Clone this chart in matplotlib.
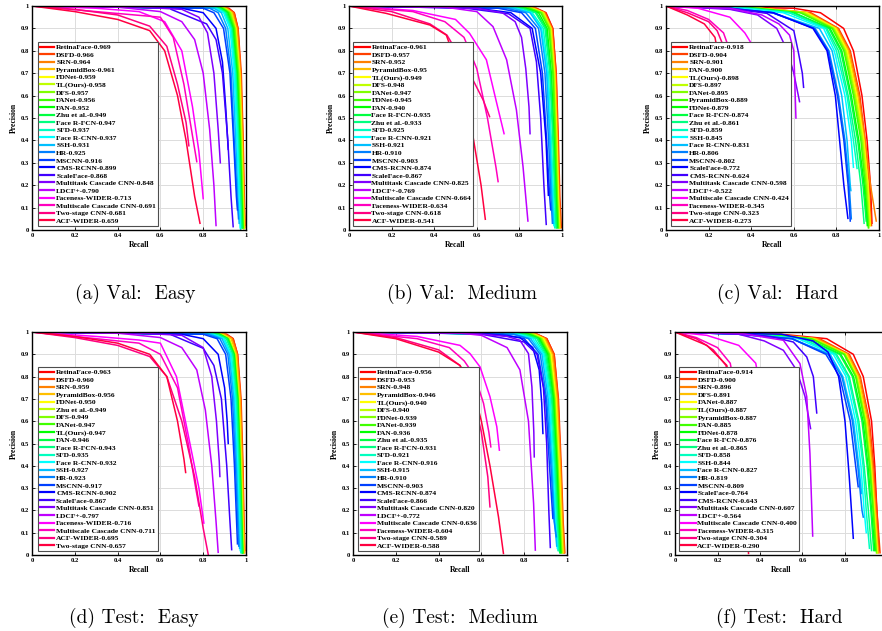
import colorsys
import matplotlib.pyplot as plt

# ---------------- (a) Val: Easy ----------------
va_easy_names = ["RetinaFace-0.969", "DSFD-0.966", "SRN-0.964", "PyramidBox-0.961", "FDNet-0.959",
                 "TL(Ours)-0.958", "DFS-0.957", "FANet-0.956", "FAN-0.952", "Zhu et al.-0.949",
                 "Face R-FCN-0.947", "SFD-0.937", "Face R-CNN-0.937", "SSH-0.931", "HR-0.925",
                 "MSCNN-0.916", "CMS-RCNN-0.899", "ScaleFace-0.868", "Multitask Cascade CNN-0.848",
                 "LDCF+-0.790", "Faceness-WIDER-0.713", "Multiscale Cascade CNN-0.691",
                 "Two-stage CNN-0.681", "ACF-WIDER-0.659"]
lv_a = [1, 0.99, 0.97, 0.9, 0.7, 0.4, 0.15]
va_easy_rec = [
    [0, 0.92, 0.945, 0.962, 0.975, 0.983, 0.988, 0.992],
    [0, 0.915, 0.945, 0.963, 0.978, 0.987, 0.992, 0.996],
    [0, 0.91, 0.94, 0.96, 0.975, 0.985, 0.99, 0.995],
    [0, 0.905, 0.935, 0.955, 0.972, 0.982, 0.988, 0.993],
    [0, 0.9, 0.93, 0.952, 0.97, 0.98, 0.986, 0.99],
    [0, 0.9, 0.93, 0.95, 0.968, 0.978, 0.985, 0.99],
    [0, 0.895, 0.925, 0.948, 0.965, 0.976, 0.983, 0.988],
    [0, 0.89, 0.92, 0.945, 0.962, 0.974, 0.981, 0.986],
    [0, 0.885, 0.915, 0.94, 0.958, 0.971, 0.979, 0.984],
    [0, 0.88, 0.91, 0.937, 0.955, 0.968, 0.976, 0.982],
    [0, 0.875, 0.905, 0.933, 0.952, 0.966, 0.975, 0.98],
    [0, 0.865, 0.9, 0.93, 0.95, 0.962, 0.97, 0.975],
    [0, 0.86, 0.895, 0.925, 0.945, 0.958, 0.968, 0.973],
    [0, 0.85, 0.885, 0.915, 0.938, 0.952, 0.962, 0.968],
    [0, 0.83, 0.87, 0.905, 0.93, 0.945, 0.958, 0.965],
    [0, 0.8, 0.85, 0.895, 0.925, 0.942, 0.955, 0.96],
    [0, 0.7, 0.8, 0.86, 0.89, 0.905, 0.917],
    [0.65, 0.816, 0.86, 0.89, 0.915, 0.93, 0.94],
    [0, 0.5, 0.7, 0.78, 0.82, 0.85, 0.87, 0.88],
    [0, 0.4, 0.6, 0.7, 0.76, 0.8, 0.83, 0.85, 0.86],
    [0, 0.3, 0.5, 0.62, 0.7, 0.75, 0.78, 0.8],
    [0, 0.3, 0.6, 0.66, 0.71, 0.75, 0.77],
    [0, 0.2, 0.4, 0.55, 0.63, 0.68, 0.72, 0.733],
    [0, 0.2, 0.4, 0.55, 0.62, 0.68, 0.72, 0.76, 0.785],
]
va_easy_prec = [
    lv_a + [0.05], lv_a + [0.02], lv_a + [0.01], lv_a + [0.01], lv_a + [0.01], lv_a + [0.005],
    lv_a + [0.01], lv_a + [0.01], lv_a + [0.01], lv_a + [0.01], lv_a + [0.01], lv_a + [0.0],
    lv_a + [0.01], lv_a + [0.03], lv_a + [0.05], lv_a + [0.09],
    [1, 0.99, 0.97, 0.9, 0.75, 0.55, 0.36],
    [0.985, 0.92, 0.85, 0.7, 0.4, 0.15, 0.015],
    [1, 0.995, 0.985, 0.95, 0.88, 0.7, 0.45, 0.3],
    [1, 0.995, 0.975, 0.93, 0.85, 0.7, 0.45, 0.2, 0.02],
    [1, 0.99, 0.975, 0.93, 0.8, 0.55, 0.35, 0.14],
    [1, 0.975, 0.95, 0.86, 0.65, 0.42, 0.305],
    [1, 0.985, 0.96, 0.91, 0.82, 0.65, 0.48, 0.376],
    [1, 0.975, 0.94, 0.89, 0.8, 0.6, 0.4, 0.15, 0.03],
]

# ---------------- (b) Val: Medium ----------------
va_med_names = ["RetinaFace-0.961", "DSFD-0.957", "SRN-0.952", "PyramidBox-0.95", "TL(Ours)-0.949",
                "DFS-0.948", "FANet-0.947", "FDNet-0.945", "FAN-0.940", "Face R-FCN-0.935",
                "Zhu et al.-0.933", "SFD-0.925", "Face R-CNN-0.921", "SSH-0.921", "HR-0.910",
                "MSCNN-0.903", "CMS-RCNN-0.874", "ScaleFace-0.867", "Multitask Cascade CNN-0.825",
                "LDCF+-0.769", "Multiscale Cascade CNN-0.664", "Faceness-WIDER-0.634",
                "Two-stage CNN-0.618", "ACF-WIDER-0.541"]
lv_b = [1, 0.99, 0.97, 0.9, 0.7, 0.4, 0.15]
va_med_rec = [
    [0, 0.88, 0.925, 0.957, 0.972, 0.98, 0.986, 0.99],
    [0, 0.875, 0.922, 0.956, 0.973, 0.983, 0.99, 0.997],
    [0, 0.87, 0.918, 0.952, 0.969, 0.979, 0.986, 0.992],
    [0, 0.865, 0.915, 0.95, 0.967, 0.977, 0.984, 0.99],
    [0, 0.86, 0.912, 0.947, 0.964, 0.975, 0.982, 0.988],
    [0, 0.855, 0.91, 0.945, 0.962, 0.973, 0.98, 0.986],
    [0, 0.85, 0.905, 0.942, 0.96, 0.971, 0.978, 0.984],
    [0, 0.845, 0.9, 0.938, 0.957, 0.968, 0.976, 0.982],
    [0, 0.83, 0.89, 0.93, 0.95, 0.963, 0.972, 0.978],
    [0, 0.82, 0.88, 0.925, 0.946, 0.96, 0.969, 0.975],
    [0, 0.81, 0.875, 0.92, 0.943, 0.957, 0.966, 0.972],
    [0, 0.79, 0.86, 0.912, 0.936, 0.95, 0.96, 0.966],
    [0, 0.78, 0.855, 0.905, 0.932, 0.946, 0.956, 0.962],
    [0, 0.77, 0.85, 0.9, 0.928, 0.943, 0.953, 0.96],
    [0, 0.74, 0.83, 0.89, 0.92, 0.937, 0.948, 0.955],
    [0, 0.7, 0.81, 0.875, 0.908, 0.928, 0.942, 0.947],
    [0, 0.6, 0.76, 0.86, 0.9, 0.925, 0.936],
    [0.55, 0.75, 0.85, 0.88, 0.9, 0.915, 0.926],
    [0, 0.6, 0.72, 0.78, 0.81, 0.83, 0.845, 0.85],
    [0, 0.45, 0.6, 0.676, 0.74, 0.786, 0.817, 0.84],
    [0, 0.3, 0.5, 0.566, 0.645, 0.69, 0.728],
    [0, 0.3, 0.45, 0.54, 0.6, 0.65, 0.69, 0.70],
    [0, 0.2, 0.38, 0.46, 0.566, 0.63, 0.66],
    [0, 0.175, 0.38, 0.457, 0.52, 0.58, 0.62, 0.64],
]
va_med_prec = [
    lv_b + [0.02], lv_b + [0.01], lv_b + [0.01], lv_b + [0.01], lv_b + [0.01], lv_b + [0.01],
    lv_b + [0.01], lv_b + [0.01], lv_b + [0.01], lv_b + [0.01], lv_b + [0.01], lv_b + [0.01],
    lv_b + [0.02], lv_b + [0.03], lv_b + [0.03], lv_b + [0.09],
    [1, 0.99, 0.97, 0.9, 0.7, 0.4, 0.155],
    [0.99, 0.965, 0.9, 0.75, 0.5, 0.2, 0.025],
    [1, 0.99, 0.97, 0.93, 0.86, 0.72, 0.55, 0.43],
    [1, 0.995, 0.975, 0.908, 0.76, 0.536, 0.283, 0.04],
    [1, 0.98, 0.94, 0.878, 0.76, 0.58, 0.43],
    [1, 0.975, 0.93, 0.86, 0.72, 0.5, 0.28, 0.216],
    [1, 0.975, 0.92, 0.87, 0.70, 0.58, 0.506],
    [1, 0.967, 0.915, 0.87, 0.70, 0.43, 0.2, 0.048],
]

# ---------------- (c) Val: Hard ----------------
va_hard_names = ["RetinaFace-0.918", "DSFD-0.904", "SRN-0.901", "FAN-0.900", "TL(Ours)-0.898",
                 "DFS-0.897", "FANet-0.895", "PyramidBox-0.889", "FDNet-0.879", "Face R-FCN-0.874",
                 "Zhu et al.-0.861", "SFD-0.859", "SSH-0.845", "Face R-CNN-0.831", "HR-0.806",
                 "MSCNN-0.802", "ScaleFace-0.772", "CMS-RCNN-0.624", "Multitask Cascade CNN-0.598",
                 "LDCF+-0.522", "Multiscale Cascade CNN-0.424", "Faceness-WIDER-0.345",
                 "Two-stage CNN-0.323", "ACF-WIDER-0.273"]
lv_c = [1, 0.99, 0.97, 0.9, 0.8, 0.6, 0.4, 0.2]
va_hard_rec = [
    [0, 0.6, 0.725, 0.834, 0.88, 0.92, 0.944, 0.96, 0.967],
    [0, 0.45, 0.68, 0.81, 0.865, 0.91, 0.935, 0.955, 0.965],
    [0, 0.45, 0.67, 0.805, 0.86, 0.905, 0.935, 0.96, 0.987],
    [0, 0.44, 0.66, 0.8, 0.855, 0.9, 0.93, 0.95, 0.96],
    [0, 0.44, 0.66, 0.795, 0.85, 0.895, 0.928, 0.948, 0.958],
    [0, 0.43, 0.65, 0.79, 0.845, 0.89, 0.925, 0.945, 0.955],
    [0, 0.43, 0.64, 0.785, 0.84, 0.885, 0.92, 0.94, 0.952],
    [0, 0.42, 0.63, 0.78, 0.835, 0.88, 0.915, 0.935, 0.95],
    [0, 0.4, 0.6, 0.77, 0.825, 0.87, 0.905, 0.93, 0.945],
    [0, 0.4, 0.6, 0.765, 0.82, 0.865, 0.9, 0.925, 0.94],
    [0, 0.38, 0.58, 0.755, 0.81, 0.855, 0.89, 0.915, 0.93],
    [0, 0.38, 0.58, 0.75, 0.8, 0.85, 0.88, 0.897],
    [0, 0.35, 0.55, 0.74, 0.79, 0.84, 0.87, 0.88],
    [0, 0.3, 0.5, 0.72, 0.78, 0.825, 0.85, 0.865, 0.868],
    [0, 0.3, 0.5, 0.7, 0.765, 0.81, 0.84, 0.86, 0.87],
    [0, 0.3, 0.5, 0.695, 0.76, 0.805, 0.835, 0.855, 0.865],
    [0, 0.25, 0.505, 0.69, 0.756, 0.795, 0.815, 0.835, 0.854],
    [0, 0.3, 0.474, 0.6, 0.62, 0.64, 0.646],
    [0, 0.3, 0.43, 0.52, 0.57, 0.6, 0.627],
    [0, 0.3, 0.45, 0.53, 0.58, 0.6, 0.61],
    [0, 0.15, 0.3, 0.37, 0.396, 0.42, 0.43],
    [0, 0.1, 0.2, 0.27, 0.3, 0.32, 0.33],
    [0, 0.1, 0.2, 0.24, 0.27, 0.29, 0.31],
    [0, 0.1, 0.18, 0.23, 0.26, 0.28],
]
va_hard_prec = [
    lv_c + [0.03], lv_c + [0.02], lv_c + [0.04], lv_c + [0.02], lv_c + [0.02], lv_c + [0.02],
    lv_c + [0.01], lv_c + [0.01], lv_c + [0.02], lv_c + [0.04], lv_c + [0.03],
    [1, 0.99, 0.97, 0.9, 0.8, 0.6, 0.4, 0.275],
    [1, 0.99, 0.97, 0.9, 0.8, 0.6, 0.4, 0.28],
    lv_c + [0.176], lv_c + [0.05], lv_c + [0.04], lv_c + [0.052],
    [1, 0.99, 0.967, 0.89, 0.8, 0.7, 0.637],
    [1, 0.985, 0.96, 0.9, 0.8, 0.7, 0.573],
    [1, 0.99, 0.96, 0.92, 0.87, 0.8, 0.5],
    [1, 0.99, 0.95, 0.88, 0.84, 0.6, 0.4],
    [1, 0.98, 0.94, 0.88, 0.8, 0.6, 0.35],
    [1, 0.97, 0.93, 0.89, 0.82, 0.6, 0.4],
    [1, 0.96, 0.92, 0.86, 0.7, 0.3],
]

# ---------------- (d) Test: Easy ----------------
te_easy_names = ["RetinaFace-0.963", "DSFD-0.960", "SRN-0.959", "PyramidBox-0.956", "FDNet-0.950",
                 "Zhu et al.-0.949", "DFS-0.949", "FANet-0.947", "TL(Ours)-0.947", "FAN-0.946",
                 "Face R-FCN-0.943", "SFD-0.935", "Face R-CNN-0.932", "SSH-0.927", "HR-0.923",
                 "MSCNN-0.917", "CMS-RCNN-0.902", "ScaleFace-0.867", "Multitask Cascade CNN-0.851",
                 "LDCF+-0.797", "Faceness-WIDER-0.716", "Multiscale Cascade CNN-0.711",
                 "ACF-WIDER-0.695", "Two-stage CNN-0.657"]
lv_d = [1, 0.99, 0.97, 0.9, 0.7, 0.4, 0.15]
te_easy_rec = [
    [0, 0.91, 0.94, 0.96, 0.974, 0.982, 0.987, 0.99],
    [0, 0.905, 0.94, 0.961, 0.977, 0.986, 0.991, 0.995],
    [0, 0.9, 0.935, 0.958, 0.974, 0.984, 0.989, 0.994],
    [0, 0.895, 0.93, 0.955, 0.971, 0.981, 0.987, 0.992],
    [0, 0.885, 0.922, 0.95, 0.967, 0.977, 0.984, 0.988],
    [0, 0.88, 0.92, 0.948, 0.965, 0.976, 0.983, 0.987],
    [0, 0.88, 0.918, 0.947, 0.964, 0.975, 0.982, 0.986],
    [0, 0.875, 0.915, 0.945, 0.962, 0.973, 0.98, 0.985],
    [0, 0.875, 0.914, 0.944, 0.961, 0.972, 0.979, 0.984],
    [0, 0.87, 0.912, 0.942, 0.959, 0.97, 0.978, 0.983],
    [0, 0.865, 0.908, 0.938, 0.956, 0.968, 0.976, 0.98],
    [0, 0.85, 0.9, 0.932, 0.952, 0.964, 0.972, 0.976],
    [0, 0.845, 0.895, 0.928, 0.948, 0.96, 0.968, 0.973],
    [0, 0.835, 0.888, 0.922, 0.943, 0.956, 0.965, 0.97],
    [0, 0.82, 0.878, 0.915, 0.937, 0.951, 0.961, 0.966],
    [0, 0.8, 0.865, 0.905, 0.93, 0.946, 0.956, 0.96],
    [0, 0.7, 0.8, 0.87, 0.9, 0.912, 0.917],
    [0.652, 0.8, 0.85, 0.885, 0.91, 0.925, 0.933],
    [0, 0.5, 0.7, 0.8, 0.84, 0.862, 0.875, 0.878],
    [0, 0.4, 0.6, 0.7, 0.77, 0.81, 0.84, 0.86, 0.87],
    [0, 0.3, 0.5, 0.6, 0.675, 0.738, 0.78, 0.803],
    [0, 0.3, 0.5, 0.6, 0.68, 0.73, 0.765, 0.78],
    [0, 0.2, 0.4, 0.55, 0.63, 0.7, 0.76, 0.8, 0.824],
    [0, 0.2, 0.4, 0.55, 0.63, 0.68, 0.71, 0.718],
]
te_easy_prec = [
    lv_d + [0.04], lv_d + [0.02], lv_d + [0.01], lv_d + [0.01], lv_d + [0.01], lv_d + [0.01],
    lv_d + [0.01], lv_d + [0.01], lv_d + [0.01], lv_d + [0.01], lv_d + [0.01], lv_d + [0.01],
    lv_d + [0.02], lv_d + [0.03], lv_d + [0.04], lv_d + [0.05],
    [1, 0.99, 0.97, 0.9, 0.75, 0.6, 0.5],
    [0.987, 0.927, 0.85, 0.7, 0.4, 0.15, 0.024],
    [1, 0.995, 0.985, 0.93, 0.8, 0.6, 0.42, 0.352],
    [1, 0.995, 0.975, 0.93, 0.83, 0.65, 0.4, 0.15, 0.012],
    [1, 0.98, 0.964, 0.95, 0.8, 0.5, 0.3, 0.143],
    [1, 0.97, 0.95, 0.9, 0.75, 0.5, 0.3, 0.22],
    [1, 0.975, 0.94, 0.89, 0.8, 0.6, 0.35, 0.12, 0.0],
    [1, 0.98, 0.95, 0.9, 0.8, 0.6, 0.43, 0.37],
]

# ---------------- (e) Test: Medium ----------------
te_med_names = ["RetinaFace-0.956", "DSFD-0.953", "SRN-0.948", "PyramidBox-0.946", "TL(Ours)-0.940",
                "DFS-0.940", "FDNet-0.939", "FANet-0.939", "FAN-0.936", "Zhu et al.-0.935",
                "Face R-FCN-0.931", "SFD-0.921", "Face R-CNN-0.916", "SSH-0.915", "HR-0.910",
                "MSCNN-0.903", "CMS-RCNN-0.874", "ScaleFace-0.866", "Multitask Cascade CNN-0.820",
                "LDCF+-0.772", "Multiscale Cascade CNN-0.636", "Faceness-WIDER-0.604",
                "Two-stage CNN-0.589", "ACF-WIDER-0.588"]
lv_e = [1, 0.99, 0.97, 0.9, 0.7, 0.4, 0.15]
te_med_rec = [
    [0, 0.86, 0.906, 0.94, 0.958, 0.97, 0.978, 0.985],
    [0, 0.86, 0.905, 0.94, 0.96, 0.973, 0.982, 0.99],
    [0, 0.855, 0.9, 0.935, 0.956, 0.97, 0.98, 0.987],
    [0, 0.85, 0.895, 0.93, 0.952, 0.967, 0.976, 0.983],
    [0, 0.845, 0.89, 0.925, 0.948, 0.963, 0.973, 0.98],
    [0, 0.84, 0.885, 0.92, 0.945, 0.96, 0.97, 0.978],
    [0, 0.835, 0.88, 0.918, 0.942, 0.957, 0.968, 0.975],
    [0, 0.83, 0.875, 0.915, 0.94, 0.955, 0.965, 0.972],
    [0, 0.82, 0.87, 0.91, 0.936, 0.952, 0.962, 0.97],
    [0, 0.81, 0.865, 0.905, 0.932, 0.948, 0.958, 0.966],
    [0, 0.8, 0.86, 0.9, 0.928, 0.944, 0.955, 0.962],
    [0, 0.78, 0.85, 0.895, 0.922, 0.94, 0.95, 0.958],
    [0, 0.77, 0.84, 0.89, 0.918, 0.935, 0.946, 0.955],
    [0, 0.75, 0.83, 0.883, 0.912, 0.93, 0.942, 0.952],
    [0, 0.75, 0.82, 0.875, 0.905, 0.925, 0.94, 0.95],
    [0, 0.7, 0.8, 0.865, 0.9, 0.918, 0.934],
    [0, 0.6, 0.78, 0.84, 0.87, 0.882, 0.8875],
    [0.6, 0.8, 0.86, 0.89, 0.905, 0.915, 0.922],
    [0, 0.55, 0.72, 0.78, 0.82, 0.836, 0.845, 0.847],
    [0, 0.5, 0.6, 0.72, 0.78, 0.82, 0.844, 0.852],
    [0, 0.3, 0.5, 0.547, 0.594, 0.64, 0.672, 0.684],
    [0, 0.3, 0.45, 0.52, 0.57, 0.61, 0.635, 0.644],
    [0, 0.2, 0.4, 0.5, 0.56, 0.6, 0.63, 0.64],
    [0, 0.2, 0.4, 0.5, 0.56, 0.6, 0.64, 0.68, 0.703],
]
te_med_prec = [
    lv_e + [0.01], lv_e + [0.01], lv_e + [0.01], lv_e + [0.01], lv_e + [0.01], lv_e + [0.01],
    lv_e + [0.01], lv_e + [0.01], lv_e + [0.01], lv_e + [0.01], lv_e + [0.02], lv_e + [0.02],
    lv_e + [0.03], lv_e + [0.04], lv_e + [0.082],
    [1, 0.99, 0.97, 0.9, 0.7, 0.4, 0.164],
    [1, 0.995, 0.975, 0.93, 0.83, 0.68, 0.545],
    [0.99, 0.955, 0.9, 0.75, 0.5, 0.2, 0.034],
    [1, 0.995, 0.98, 0.963, 0.903, 0.754, 0.55, 0.44],
    [1, 0.995, 0.985, 0.93, 0.83, 0.6, 0.23, 0.022],
    [1, 0.98, 0.94, 0.903, 0.843, 0.71, 0.575, 0.47],
    [1, 0.97, 0.93, 0.87, 0.8, 0.68, 0.55, 0.485],
    [1, 0.975, 0.92, 0.85, 0.72, 0.55, 0.35, 0.216],
    [1, 0.97, 0.91, 0.85, 0.75, 0.6, 0.4, 0.17, 0.007],
]

# ---------------- (f) Test: Hard ----------------
te_hard_names = ["RetinaFace-0.914", "DSFD-0.900", "SRN-0.896", "DFS-0.891", "FANet-0.887",
                 "TL(Ours)-0.887", "PyramidBox-0.887", "FAN-0.885", "FDNet-0.878", "Face R-FCN-0.876",
                 "Zhu et al.-0.865", "SFD-0.858", "SSH-0.844", "Face R-CNN-0.827", "HR-0.819",
                 "MSCNN-0.809", "ScaleFace-0.764", "CMS-RCNN-0.643", "Multitask Cascade CNN-0.607",
                 "LDCF+-0.564", "Multiscale Cascade CNN-0.400", "Faceness-WIDER-0.315",
                 "Two-stage CNN-0.304", "ACF-WIDER-0.290"]
lv_f = [1, 0.99, 0.97, 0.9, 0.8, 0.6, 0.4, 0.2]
te_hard_rec = [
    [0, 0.5, 0.714, 0.839, 0.886, 0.925, 0.94, 0.95, 0.96],
    [0, 0.45, 0.68, 0.82, 0.872, 0.915, 0.935, 0.95, 0.965],
    [0, 0.45, 0.67, 0.815, 0.868, 0.91, 0.93, 0.945, 0.958],
    [0, 0.43, 0.66, 0.81, 0.862, 0.905, 0.926, 0.942, 0.955],
    [0, 0.42, 0.65, 0.805, 0.858, 0.9, 0.922, 0.938, 0.952],
    [0, 0.42, 0.65, 0.8, 0.855, 0.898, 0.92, 0.936, 0.95],
    [0, 0.42, 0.645, 0.8, 0.853, 0.895, 0.918, 0.934, 0.948],
    [0, 0.4, 0.64, 0.795, 0.85, 0.892, 0.915, 0.932, 0.945],
    [0, 0.38, 0.62, 0.78, 0.84, 0.885, 0.908, 0.925, 0.94],
    [0, 0.38, 0.62, 0.775, 0.835, 0.88, 0.904, 0.922, 0.935],
    [0, 0.35, 0.6, 0.76, 0.82, 0.865, 0.89, 0.91, 0.925],
    [0, 0.35, 0.6, 0.755, 0.815, 0.86, 0.885, 0.9, 0.915],
    [0, 0.33, 0.58, 0.745, 0.805, 0.85, 0.875, 0.89, 0.9],
    [0, 0.3, 0.55, 0.73, 0.79, 0.84, 0.865, 0.878],
    [0, 0.3, 0.55, 0.72, 0.785, 0.835, 0.86, 0.88, 0.886],
    [0, 0.3, 0.55, 0.71, 0.775, 0.825, 0.85, 0.862],
    [0, 0.5, 0.65, 0.72, 0.77, 0.8, 0.82, 0.839],
    [0, 0.3, 0.45, 0.557, 0.62, 0.651, 0.667],
    [0, 0.3, 0.42, 0.51, 0.573, 0.612, 0.638],
    [0, 0.3, 0.51, 0.588, 0.62, 0.635, 0.648],
    [0, 0.15, 0.3, 0.38, 0.41, 0.43],
    [0, 0.1, 0.2, 0.26, 0.29, 0.3],
    [0, 0.1, 0.18, 0.24, 0.28, 0.29],
    [0, 0.1, 0.15, 0.205, 0.244, 0.3, 0.33, 0.346],
]
te_hard_prec = [
    lv_f + [0.02], lv_f + [0.01], lv_f + [0.01], lv_f + [0.01], lv_f + [0.01], lv_f + [0.01],
    lv_f + [0.01], lv_f + [0.02], lv_f + [0.02], lv_f + [0.02], lv_f + [0.02], lv_f + [0.03],
    lv_f + [0.1],
    [1, 0.99, 0.97, 0.9, 0.8, 0.6, 0.4, 0.276],
    lv_f + [0.17],
    [1, 0.99, 0.97, 0.9, 0.8, 0.6, 0.4, 0.306],
    [1, 0.99, 0.96, 0.91, 0.8, 0.6, 0.35, 0.075],
    [1, 0.995, 0.98, 0.955, 0.888, 0.8, 0.637],
    [1, 0.99, 0.96, 0.918, 0.828, 0.71, 0.567],
    [1, 0.995, 0.963, 0.858, 0.71, 0.455, 0.085],
    [1, 0.985, 0.94, 0.86, 0.7, 0.4],
    [1, 0.975, 0.93, 0.86, 0.7, 0.4],
    [1, 0.97, 0.92, 0.85, 0.65, 0.4],
    [1, 0.96, 0.94, 0.888, 0.85, 0.55, 0.25, 0.007],
]

captions = ["(a) Val:  Easy", "(b) Val:  Medium", "(c) Val:  Hard",
            "(d) Test:  Easy", "(e) Test:  Medium", "(f) Test:  Hard"]

plt.rcParams['font.family'] = ['Liberation Serif', 'DejaVu Serif']
plt.rcParams['font.weight'] = 'bold'

fig = plt.figure(figsize=(8.82, 6.31), dpi=100)
W, H = 882, 631


def panel(px, py, pw, ph, names, rec, prec, leg_x, show_one=True):
    ax = fig.add_axes([px / W, 1 - (py + ph) / H, pw / W, ph / H])
    n = len(names)
    for i in range(n):
        col = colorsys.hsv_to_rgb(i / n, 1, 1)
        ax.plot(rec[i], prec[i], color=col, lw=1.1, label=names[i])
    ax.set_xlim(0, 1)
    ax.set_ylim(0, 1)
    if show_one:
        ax.set_xticks([0, 0.2, 0.4, 0.6, 0.8, 1])
        ax.set_xticklabels(["0", "0.2", "0.4", "0.6", "0.8", "1"])
    else:
        # the right edge of this panel falls outside the picture
        ax.set_xticks([0, 0.2, 0.4, 0.6, 0.8])
        ax.set_xticklabels(["0", "0.2", "0.4", "0.6", "0.8"])
    ax.set_yticks([i / 10 for i in range(11)])
    ax.set_yticklabels(["0"] + ["0.%d" % i for i in range(1, 10)] + ["1"])
    ax.tick_params(direction='in', length=2.5, width=0.6, labelsize=4.8, pad=2,
                   top=True, right=True)
    ax.grid(True, color='#dcdcdc', lw=0.7)
    ax.set_axisbelow(True)
    for s in ax.spines.values():
        s.set_linewidth(1.0)
    ax.set_xlabel("Recall", fontsize=5.6, fontweight='bold', labelpad=2)
    ax.set_ylabel("Precision", fontsize=5.6, fontweight='bold', labelpad=2)
    leg = ax.legend(loc='lower left', bbox_to_anchor=(leg_x, 0.018), borderaxespad=0,
                    fontsize=5.4, handlelength=1.9, handletextpad=0.25, labelspacing=0.17,
                    borderpad=0.3, fancybox=False, framealpha=1, edgecolor='0.3')
    leg.get_frame().set_linewidth(0.8)
    for t in leg.get_texts():
        t.set_fontweight('bold')
    for l in leg.get_lines():
        l.set_linewidth(1.6)
    return ax


panel(32, 6, 214, 224, va_easy_names, va_easy_rec, va_easy_prec, 0.028)
panel(349, 6, 213, 224, va_med_names, va_med_rec, va_med_prec, 0.019)
panel(666, 6, 213, 224, va_hard_names, va_hard_rec, va_hard_prec, 0.023)
panel(32, 332, 214, 223, te_easy_names, te_easy_rec, te_easy_prec, 0.027)
panel(353, 332, 214, 223, te_med_names, te_med_rec, te_med_prec, 0.025)
panel(675, 332, 212.5, 223, te_hard_names, te_hard_rec, te_hard_prec, 0.019, show_one=False)

cap_pos = [(135, 294), (462, 294), (778, 294), (134, 618), (460, 618), (779, 618)]
for (cx, cy), txt in zip(cap_pos, captions):
    fig.text(cx / W, 1 - cy / H, txt, ha='center', va='center', fontsize=14,
             family='cmr10', fontweight='normal')

fig.savefig("out.png", dpi=100)
